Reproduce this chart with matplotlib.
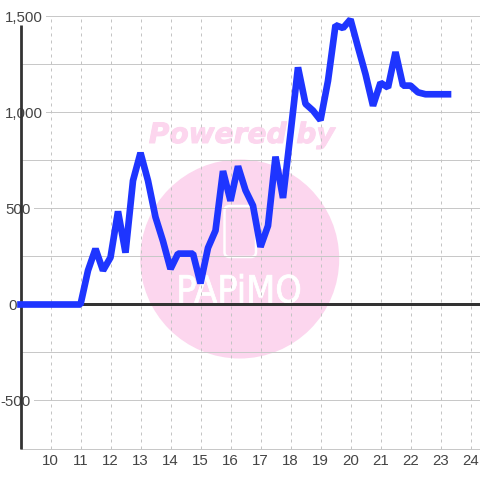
import matplotlib
matplotlib.use("Agg")
import matplotlib.pyplot as plt
import matplotlib.patheffects as pe
from matplotlib.patches import Circle, FancyBboxPatch
from matplotlib.transforms import blended_transform_factory, IdentityTransform

hours = [9 + i * 0.25 for i in range(58)]
values = [0, 0, 0, 0, 0, 0, 0, 0, 0,
          177, 290, 177, 245, 485, 270, 645, 790, 645, 455, 330, 185, 265, 265, 265,
          110, 295, 385, 695, 540, 720, 595, 515, 300, 410, 770, 555, 890, 1235, 1045, 1010,
          960, 1165, 1455, 1440, 1485, 1340, 1200, 1035, 1155, 1130, 1315, 1140, 1140,
          1105, 1095, 1095, 1095, 1095]
x_ticks = list(range(10, 25))
y_major = [-500, 0, 500, 1000, 1500]
y_minor = [-750, -250, 250, 750, 1250]
y_labels = ["-500", "0", "500", "1,000", "1,500"]

plt.rcParams['font.family'] = ['Liberation Sans', 'DejaVu Sans']
W = 480
fig = plt.figure(figsize=(4.8, 4.8), dpi=100, facecolor='white')
ax = fig.add_axes([20.5 / W, 1 - 448.5 / W, (W - 20.5) / W, (448.5 - 16.5) / W])
ax.set_xlim(9, 9 + (W - 20.5) / 30)
ax.set_ylim(-750, 1500)
ax.patch.set_alpha(0)

# watermark behind the plot, in figure pixels
bg = fig.add_axes([0, 0, 1, 1], zorder=-1)
bg.set_xlim(0, W)
bg.set_ylim(W, 0)
bg.axis('off')
pink = '#fcd6ee'
bg.add_patch(Circle((239.7, 259), 99.5, fc=pink, ec='none'))
bg.add_patch(FancyBboxPatch((224.5, 206), 31.5, 51, boxstyle='round,pad=0,rounding_size=5',
                            fc='none', ec='white', lw=1.8))
bg.text(241.5, 135, 'Powered by', color=pink, fontsize=20.2, fontweight='bold', fontstyle='italic',
        family=['DejaVu Sans'], ha='center', va='center',
        path_effects=[pe.withStroke(linewidth=0.7, foreground=pink)])
bg.text(239, 302.5, 'PAPiMO', color='white', fontsize=27, family=['DejaVu Sans'],
        fontstretch='condensed', ha='center', va='baseline',
        path_effects=[pe.withStroke(linewidth=0.5, foreground='white')])

for s in ax.spines.values():
    s.set_visible(False)
ax.spines['left'].set_visible(True)
ax.spines['left'].set_color('#333333')
ax.spines['left'].set_linewidth(2.0)
ax.spines['left'].set_capstyle('butt')
ax.spines['left'].set_bounds(-750, 1458)
ax.spines['left'].set_zorder(2)

for y in y_major + y_minor:
    ax.axhline(y, color='#c8c8c8', lw=0.72, zorder=1, clip_on=False)
for x in x_ticks:
    ax.axvline(x, color='#c4c4c4', lw=0.72, ls=(0, (3, 4)), zorder=1)
ax.axhline(0, color='#333333', lw=2.16, zorder=2)
ax.plot(hours, values, color='#1e35ff', lw=4.8, solid_joinstyle='bevel',
        solid_capstyle='projecting', zorder=5, clip_on=False)

ax.set_xticks(x_ticks)
ax.set_xticklabels([str(v) for v in x_ticks])
ax.tick_params(axis='x', length=0, pad=4, labelsize=10.8, labelcolor='#444444')
ax.set_yticks(y_major)
ax.set_yticklabels(y_labels)
ax.tick_params(axis='y', length=0, pad=0, labelsize=10.8, labelcolor='#444444')
trans = blended_transform_factory(IdentityTransform(), ax.transData)
for lab, right in zip(ax.get_yticklabels(), [31, 16.5, 30.5, 43, 43]):
    lab.set_horizontalalignment('right')
    lab.set_transform(trans)
    lab.set_x(right)
    lab.set_bbox(dict(fc='white', ec='none', pad=2.2))
    lab.set_zorder(4)
fig.savefig('out.png', dpi=100)
